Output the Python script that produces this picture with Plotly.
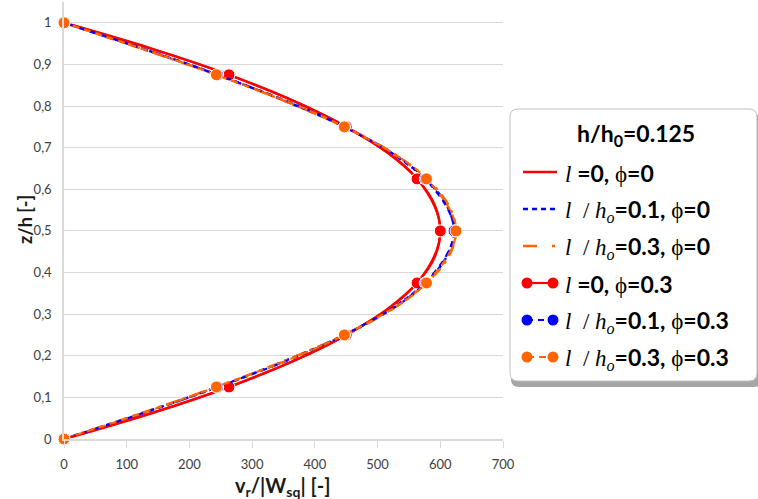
import plotly.graph_objects as go

# ---- data -----------------------------------------------------------------
# dimensionless height across the gap
Z_FINE = [0, 0.0625, 0.125, 0.1875, 0.25, 0.3125, 0.375, 0.4375, 0.5,
          0.5625, 0.625, 0.6875, 0.75, 0.8125, 0.875, 0.9375, 1]
# radial velocity profiles, phi = 0
V_L0 = [0, 141, 263, 366, 450, 516, 563, 591, 600, 591, 563, 516, 450, 366, 263, 141, 0]
V_L01 = [0, 126, 245, 352, 447, 522, 576, 610, 622, 610, 576, 522, 447, 352, 245, 126, 0]
V_L03 = [0, 124, 243, 351, 447, 524, 578, 613, 625, 613, 578, 524, 447, 351, 243, 124, 0]

# marked profiles, phi = 0.3
Z_MARK = [0, 0.125, 0.25, 0.375, 0.5, 0.625, 0.75, 0.875, 1]
V_L0_PHI = [0, 263, 450, 563, 600, 563, 450, 263, 0]
V_L01_PHI = [0, 245, 447, 576, 622, 576, 447, 245, 0]
V_L03_PHI = [0, 243, 447, 578, 625, 578, 447, 243, 0]

X_TICKS = [0, 100, 200, 300, 400, 500, 600, 700]
X_TICK_TEXT = ["0", "100", "200", "300", "400", "500", "600", "700"]
Y_TICKS = [0, 0.1, 0.2, 0.3, 0.4, 0.5, 0.6, 0.7, 0.8, 0.9, 1.0]
Y_TICK_TEXT = ["0", "0,1", "0,2", "0,3", "0,4", "0,5", "0,6", "0,7", "0,8", "0,9", "1"]

RED = "#ff0000"
BLUE = "#0000ff"
ORANGE = "#ff6600"

W, H = 758, 499
ML, MR, MT, MB = 64, 255, 2, 60
PW = W - ML - MR
PH = H - MT - MB


def px(xp):
    return (xp - ML) / PW


def py(yp):
    return (H - MB - yp) / PH


SANS = "Lato, 'Open Sans', sans-serif"
SERIF = "'Liberation Serif', 'DejaVu Serif', serif"

fig = go.Figure()

line_series = [
    (V_L0, RED, "solid"),
    (V_L01, BLUE, "5px,4px"),
    (V_L03, ORANGE, "12px,6px,3px,6px"),
]
for vals, col, dash in line_series:
    fig.add_trace(go.Scatter(
        x=vals, y=Z_FINE, mode="lines",
        line=dict(color=col, width=2.5, dash=dash, shape="spline"),
        showlegend=False, hoverinfo="skip", cliponaxis=False,
    ))

marker_series = [
    (V_L0_PHI, RED, "solid"),
    (V_L01_PHI, BLUE, "6px,5px"),
    (V_L03_PHI, ORANGE, "7px,5px"),
]
for vals, col, dash in marker_series:
    fig.add_trace(go.Scatter(
        x=vals, y=Z_MARK, mode="lines+markers",
        line=dict(color=col, width=2.2, dash=dash, shape="spline"),
        marker=dict(color=col, size=12, line=dict(color="white", width=1)),
        showlegend=False, hoverinfo="skip", cliponaxis=False,
    ))

# ---- legend panel ------------------------------------------------------------
shapes = []


def rounded_rect(x0, y0, x1, y1, r):
    rx, ry = r / PW, r / PH
    a, b = px(x0), px(x1)
    t, u = py(y0), py(y1)
    return (f"M {a+rx} {t} L {b-rx} {t} Q {b} {t} {b} {t-ry} "
            f"L {b} {u+ry} Q {b} {u} {b-rx} {u} "
            f"L {a+rx} {u} Q {a} {u} {a} {u+ry} "
            f"L {a} {t-ry} Q {a} {t} {a+rx} {t} Z")


shapes.append(dict(type="path", xref="paper", yref="paper",
                   path=rounded_rect(511, 114, 762, 387, 8),
                   fillcolor="#a6a6a6", line=dict(width=0), layer="above"))
shapes.append(dict(type="path", xref="paper", yref="paper",
                   path=rounded_rect(510, 109, 757, 381, 8),
                   fillcolor="white", line=dict(color="#bfbfbf", width=1),
                   layer="above"))

legend_rows = [172, 209, 246, 283, 320, 357]
legend_style = [
    (RED, "solid", False),
    (BLUE, "5px,4px", False),
    (ORANGE, "14px,15px,3px,6px", False),
    (RED, "solid", True),
    (BLUE, "6px,5px", True),
    (ORANGE, "7px,5px", True),
]
for yrow, (col, dash, mk) in zip(legend_rows, legend_style):
    if mk:
        shapes.append(dict(type="line", xref="paper", yref="paper",
                           x0=px(527), x1=px(553), y0=py(yrow), y1=py(yrow),
                           line=dict(color=col, width=2.2, dash=dash), layer="above"))
        for cx in (527, 553):
            shapes.append(dict(type="circle", xref="paper", yref="paper",
                               x0=px(cx - 5.5), x1=px(cx + 5.5),
                               y0=py(yrow + 5.5), y1=py(yrow - 5.5),
                               fillcolor=col, line=dict(color=col, width=0),
                               layer="above"))
    else:
        shapes.append(dict(type="line", xref="paper", yref="paper",
                           x0=px(523), x1=px(557), y0=py(yrow), y1=py(yrow),
                           line=dict(color=col, width=2.5, dash=dash), layer="above"))

math_style = f"font-family:{SERIF};font-weight:normal"
ell = f"<span style=\"{math_style}\"><i>l</i>&nbsp;</span>"
phi = f"<span style=\"{math_style}\">&nbsp;ϕ</span>"
ratio = (f"<span style=\"{math_style}\"><i>l</i>&nbsp;&nbsp;/&nbsp;<i>h</i>"
         f"<sub><i>o</i></sub></span>")
legend_text = [
    f"{ell}<b>=0,</b>{phi}<b>=0</b>",
    f"{ratio}<b>=0.1,</b>{phi}<b>=0</b>",
    f"{ratio}<b>=0.3,</b>{phi}<b>=0</b>",
    f"{ell}<b>=0,</b>{phi}<b>=0.3</b>",
    f"{ratio}<b>=0.1,</b>{phi}<b>=0.3</b>",
    f"{ratio}<b>=0.3,</b>{phi}<b>=0.3</b>",
]

annotations = []
for yrow, txt in zip(legend_rows, legend_text):
    annotations.append(dict(
        xref="paper", yref="paper", x=px(563), y=py(yrow + 1),
        xanchor="left", yanchor="middle", showarrow=False, text=txt,
        font=dict(family=SANS, size=23, color="#000000"),
    ))
annotations.append(dict(
    xref="paper", yref="paper", x=px(636), y=py(134),
    xanchor="center", yanchor="middle", showarrow=False,
    text="<b>h/h<sub>0</sub>=0.125</b>",
    font=dict(family=SANS, size=23, color="#000000"),
))

# axis titles
annotations.append(dict(
    xref="paper", yref="paper", x=px(283), y=py(486),
    xanchor="center", yanchor="middle", showarrow=False,
    text="<b>v<sub>r</sub>/|W<sub>sq</sub>| [-]</b>",
    font=dict(family=SANS, size=20, color="#1a1a1a"),
))
annotations.append(dict(
    xref="paper", yref="paper", x=px(25), y=py(220),
    xanchor="center", yanchor="middle", showarrow=False, textangle=-90,
    text="<b>z/h [-]</b>",
    font=dict(family=SANS, size=18, color="#1a1a1a"),
))

fig.update_layout(
    width=W, height=H,
    margin=dict(l=ML, r=MR, t=MT, b=MB, pad=0),
    paper_bgcolor="white", plot_bgcolor="white",
    showlegend=False,
    shapes=shapes, annotations=annotations,
    xaxis=dict(
        range=[0, 700], tickvals=X_TICKS, ticktext=X_TICK_TEXT,
        showgrid=False, zeroline=False,
        showline=True, linecolor="#d9d9d9", linewidth=1.5,
        ticks="outside", ticklen=7, tickcolor="#d9d9d9", tickwidth=1,
        ticklabelstandoff=6,
        tickfont=dict(family=SANS, size=13, color="#404040"),
    ),
    yaxis=dict(
        range=[0, 1.05], tickvals=Y_TICKS, ticktext=Y_TICK_TEXT,
        showgrid=True, gridcolor="#d9d9d9", gridwidth=1, zeroline=False,
        showline=True, linecolor="#d9d9d9", linewidth=1.5,
        ticks="", ticklabelstandoff=8,
        tickfont=dict(family=SANS, size=13, color="#404040"),
    ),
)

fig.write_html("out.html")
